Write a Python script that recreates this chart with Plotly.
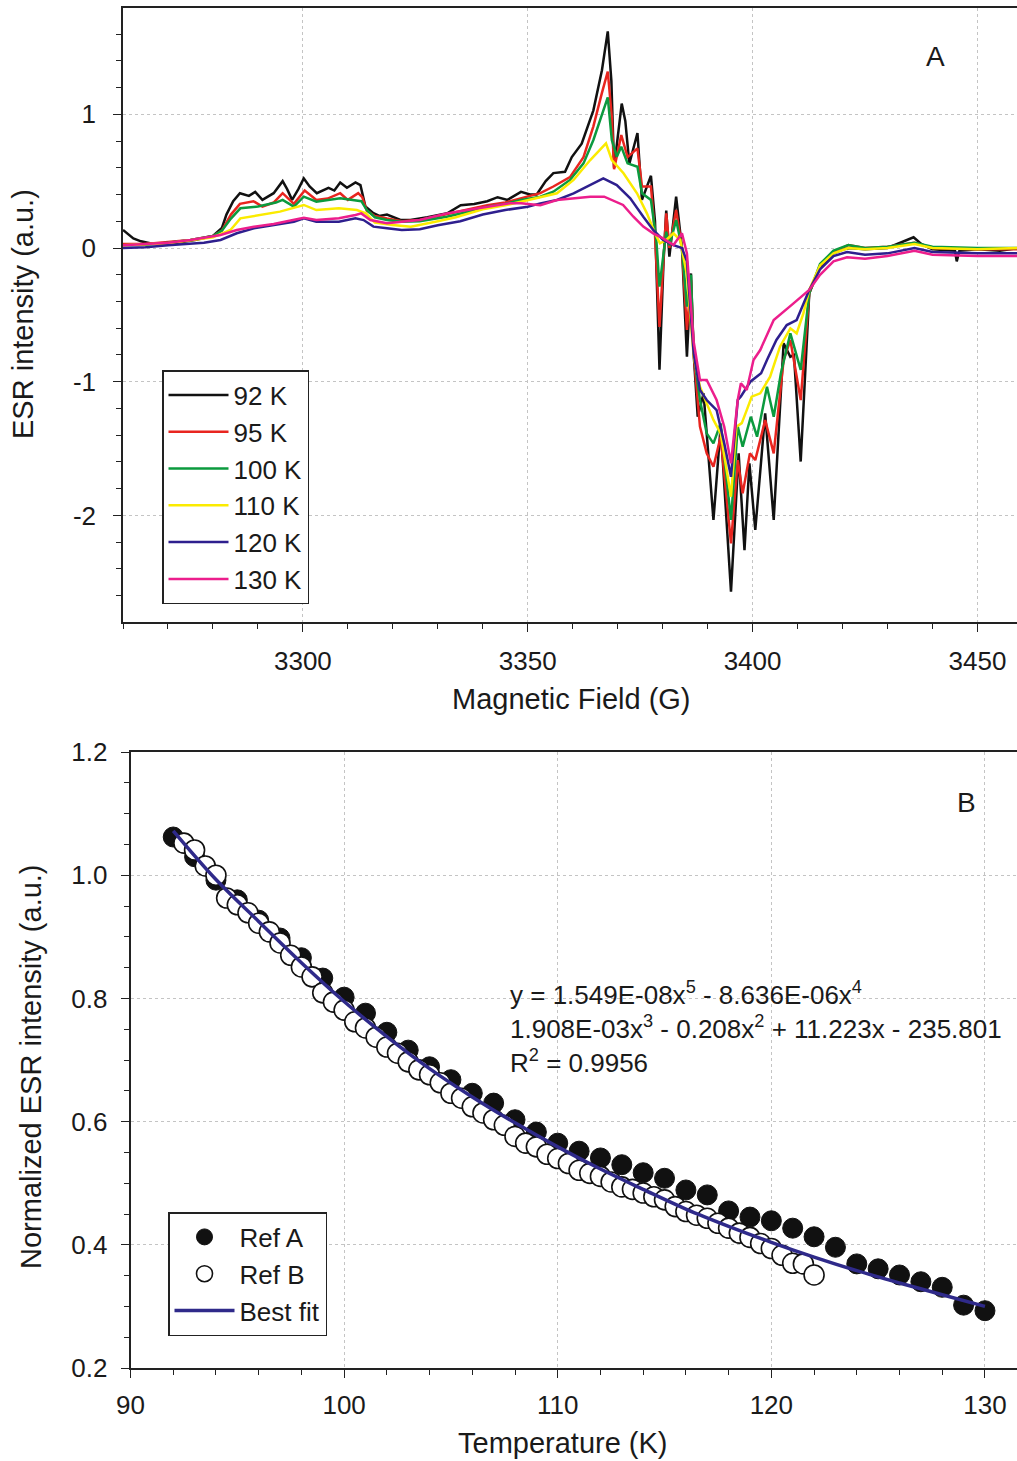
import plotly.graph_objects as go

# ---------------- Panel A: ESR spectra at several temperatures ----------------
field_92 = [3260, 3261, 3262.3, 3264, 3266, 3268, 3272, 3276, 3280, 3282, 3283, 3284.5, 3286, 3288,
            3289.4, 3291, 3293.5, 3295.5, 3296.5, 3297.6, 3299, 3300.2, 3301.5, 3303.1, 3305.7, 3307,
            3308.3, 3309.8, 3311.7, 3312.8, 3313.9, 3315.7, 3317, 3318.7, 3321.7, 3323.9, 3327.7,
            3332.1, 3335.1, 3338.1, 3341, 3343.3, 3345.5, 3348.5, 3350.5, 3352, 3354, 3355.7, 3358.3,
            3359.8, 3362, 3364.6, 3366.5, 3367.8, 3368.6, 3369.2, 3370.9, 3371.7, 3372.6, 3374.4,
            3375.4, 3377.4, 3378.3, 3379.3, 3380.2, 3380.8, 3381.5, 3383.0, 3384.3, 3385.4, 3386.3,
            3386.9, 3387.8, 3389.1, 3391.3, 3392.9, 3395.2, 3396.9, 3398.2, 3399.3, 3400.6, 3402.8,
            3404.7, 3406.9, 3408.4, 3409.2, 3410.7, 3412.6, 3415.0, 3418, 3420.2, 3421.7, 3425, 3430,
            3433, 3435.8, 3437.5, 3440, 3445, 3445.4, 3446, 3450, 3455, 3459]
esr_92 = [0.135, 0.11, 0.072, 0.05, 0.035, 0.03, 0.04, 0.06, 0.09, 0.15, 0.25, 0.35, 0.41, 0.39,
          0.42, 0.36, 0.41, 0.50, 0.44, 0.36, 0.44, 0.52, 0.46, 0.41, 0.45, 0.43,
          0.49, 0.45, 0.49, 0.47, 0.31, 0.26, 0.24, 0.25, 0.21, 0.21, 0.23,
          0.26, 0.32, 0.33, 0.35, 0.38, 0.36, 0.42, 0.40, 0.40, 0.50, 0.56, 0.57,
          0.68, 0.78, 1.03, 1.33, 1.62, 1.25, 0.60, 1.08, 0.95, 0.63, 0.86,
          0.36, 0.54, 0.20, -0.91, -0.10, 0.28, -0.065, 0.384, 0.0, -0.813, -0.19,
          -0.79, -1.262, -1.087, -2.034, -1.336, -2.571, -1.536, -2.259, -1.61, -2.109, -1.237,
          -2.034, -0.713, -0.813, -0.80, -1.597, -0.339, -0.14, -0.04, -0.01, 0.0, -0.01, 0.0,
          0.04, 0.08, 0.03, -0.01, -0.02, -0.10, -0.02, -0.01, -0.02, 0.0]

field_95 = [3260, 3265, 3270, 3275, 3280, 3282, 3284, 3286, 3289, 3291, 3293.5, 3295.5, 3298, 3300.4,
            3303, 3305.5, 3308.3, 3310, 3312.3, 3313.2, 3314.2, 3316, 3318.7, 3322, 3326, 3330, 3334,
            3338, 3341, 3345, 3348.5, 3352.8, 3355.7, 3359.4, 3362.4, 3364.6, 3366.5, 3367.8, 3368.7,
            3369.2, 3370.8, 3372.2, 3374.4, 3375.4, 3377.4, 3378.3, 3379.3, 3380.8, 3381.5, 3383.0,
            3384.3, 3385.4, 3386.3, 3386.9, 3388.3, 3389.8, 3391.3, 3392.9, 3395.2, 3396.7, 3397.8,
            3399.4, 3400.6, 3402.8, 3404.7, 3406.9, 3408.4, 3410.7, 3412.6, 3415, 3418, 3421.3, 3425,
            3430, 3436, 3440, 3450, 3459]
esr_95 = [0.03, 0.03, 0.045, 0.06, 0.09, 0.13, 0.25, 0.33, 0.35, 0.31, 0.34, 0.41, 0.33, 0.43,
          0.36, 0.37, 0.41, 0.36, 0.41, 0.38, 0.28, 0.24, 0.22, 0.20, 0.21, 0.24, 0.27,
          0.30, 0.32, 0.34, 0.37, 0.41, 0.46, 0.53, 0.68, 0.91, 1.16, 1.32, 0.98,
          0.59, 0.845, 0.68, 0.745, 0.46, 0.46, 0.10, -0.59, 0.26, 0.0, 0.284,
          0.0, -0.613, -0.24, -0.79, -1.336, -1.536, -1.636, -1.411, -2.209, -1.586, -1.835,
          -1.536, -1.586, -1.286, -1.536, -0.838, -0.688, -1.137, -0.339, -0.13, -0.03, 0.022, 0.0,
          0.01, 0.04, 0.0, -0.01, -0.01]

field_100 = [3260, 3265, 3270, 3275, 3280, 3282, 3284, 3286.1, 3290, 3294, 3295.5, 3298, 3300.2, 3303,
             3308.3, 3311, 3313, 3314.2, 3316, 3318.7, 3322, 3326, 3332, 3338, 3341, 3345, 3348.5,
             3352.8, 3355.7, 3359.4, 3362.4, 3364.6, 3366.5, 3367.8, 3368.7, 3369.8, 3370.8, 3372.2,
             3374.4, 3375.4, 3377.4, 3378.6, 3379.3, 3380.8, 3381.5, 3383.0, 3384.3, 3385.4, 3386.3,
             3386.9, 3388.3, 3389.8, 3391.3, 3392.9, 3395.2, 3396.7, 3397.8, 3399.6, 3401.0, 3403.2,
             3404.7, 3406.3, 3408.4, 3410.7, 3412.6, 3415, 3418, 3421.3, 3425, 3430, 3436, 3440,
             3450, 3459]
esr_100 = [0.02, 0.025, 0.04, 0.06, 0.09, 0.13, 0.22, 0.297, 0.31, 0.34, 0.36, 0.31, 0.384, 0.346,
           0.372, 0.359, 0.35, 0.284, 0.23, 0.21, 0.197, 0.20, 0.234, 0.28, 0.309, 0.33, 0.359,
           0.384, 0.421, 0.509, 0.633, 0.808, 1.007, 1.127, 0.808, 0.683, 0.758, 0.633,
           0.608, 0.409, 0.359, 0.06, -0.289, 0.122, 0.02, 0.209, 0.0, -0.439, -0.20,
           -0.79, -1.137, -1.386, -1.461, -1.311, -2.034, -1.336, -1.486, -1.262, -1.411, -1.037,
           -1.262, -0.937, -0.638, -0.912, -0.339, -0.12, -0.02, 0.022, 0.0, 0.01, 0.04, 0.01,
           0.0, 0.0]

field_110 = [3260, 3270, 3280, 3283.9, 3286.1, 3290.4, 3294.9, 3300.2, 3303, 3308, 3312, 3314, 3316,
             3320, 3324, 3330, 3334, 3340, 3345, 3349, 3352.8, 3356.5, 3360.2, 3363.9, 3367.4,
             3368.7, 3371.3, 3374.3, 3376.5, 3378.3, 3379.4, 3380.8, 3382.4, 3383.9, 3385.4, 3386.9,
             3388.3, 3389.8, 3391.3, 3392.9, 3395.2, 3396.4, 3397.6, 3398.7, 3399.8, 3401.7, 3403.9,
             3406.1, 3408.4, 3409.8, 3411.3, 3412.6, 3415, 3418, 3421.3, 3425, 3430, 3436, 3440,
             3450, 3459]
esr_110 = [0.02, 0.035, 0.08, 0.135, 0.222, 0.247, 0.272, 0.322, 0.284, 0.297, 0.284, 0.259, 0.19,
           0.172, 0.159, 0.20, 0.23, 0.29, 0.32, 0.35, 0.38, 0.409, 0.509, 0.658, 0.783,
           0.658, 0.559, 0.409, 0.259, 0.11, 0.035, 0.06, 0.11, 0.06, -0.20, -0.81,
           -1.037, -1.162, -1.286, -1.386, -1.86, -1.336, -1.31, -1.212, -1.112, -1.087, -0.962,
           -0.738, -0.601, -0.638, -0.489, -0.314, -0.13, -0.04, 0.0, -0.01, 0.0, 0.03, 0.0,
           -0.01, 0.0]

field_120 = [3260, 3265, 3270, 3275, 3278, 3281.7, 3285.3, 3289.1, 3293.5, 3298, 3300.2, 3303, 3308,
             3311.7, 3313.5, 3315.7, 3318.7, 3322, 3326, 3330, 3335, 3340, 3345, 3350, 3352.8,
             3356.5, 3360.2, 3363.9, 3366.8, 3369.8, 3372.8, 3375.7, 3377.9, 3380.1, 3382.4, 3384.3,
             3385.4, 3386.9, 3388.3, 3389.8, 3392.0, 3393.7, 3395.2, 3396.7, 3397.4, 3399.5, 3401.9,
             3403.2, 3405.3, 3407.6, 3409.8, 3412.6, 3415, 3418, 3421, 3425, 3430, 3436, 3440,
             3450, 3459]
esr_120 = [0.0, 0.005, 0.02, 0.03, 0.04, 0.06, 0.11, 0.147, 0.172, 0.197, 0.222, 0.197, 0.197,
           0.222, 0.209, 0.16, 0.147, 0.135, 0.14, 0.17, 0.20, 0.25, 0.284, 0.309, 0.334,
           0.359, 0.409, 0.471, 0.521, 0.471, 0.372, 0.234, 0.135, 0.06, 0.022, 0.0,
           -0.10, -0.79, -1.062, -1.137, -1.212, -1.461, -1.711, -1.137, -1.11, -1.0, -0.937,
           -0.838, -0.688, -0.576, -0.539, -0.314, -0.16, -0.06, -0.03, -0.05, -0.04, 0.0, -0.03,
           -0.04, -0.04]

field_130 = [3260, 3265, 3270, 3275, 3278, 3281.7, 3285.3, 3289.1, 3293.5, 3298, 3300.2, 3303, 3308,
             3311.7, 3313, 3315, 3318.7, 3322, 3326, 3332, 3337, 3341, 3346, 3348.5, 3352.8, 3356.5,
             3360.2, 3363.9, 3367.0, 3368.7, 3371.2, 3373.5, 3375.7, 3377.9, 3380.1, 3382.4, 3384.3,
             3385.4, 3386.9, 3388.3, 3389.8, 3392.0, 3393.7, 3395.2, 3396.7, 3397.4, 3398.7, 3400.2,
             3401.7, 3404.7, 3407, 3409.1, 3412.6, 3415, 3418, 3421, 3425, 3430, 3436, 3440, 3450,
             3459]
esr_130 = [0.02, 0.03, 0.04, 0.06, 0.075, 0.097, 0.135, 0.159, 0.18, 0.209, 0.226, 0.209, 0.222,
           0.247, 0.259, 0.209, 0.185, 0.197, 0.21, 0.259, 0.285, 0.309, 0.334, 0.334, 0.32, 0.359,
           0.372, 0.384, 0.384, 0.359, 0.322, 0.234, 0.16, 0.11, 0.072, 0.022, 0.11,
           -0.04, -0.70, -0.987, -0.987, -1.137, -1.337, -1.61, -1.137, -1.012, -1.062, -0.838,
           -0.763, -0.539, -0.47, -0.414, -0.314, -0.20, -0.10, -0.07, -0.08, -0.06, -0.02, -0.05, -0.06,
           -0.06]

spectra = [
    ("92 K", field_92, esr_92, "#111111"),
    ("95 K", field_95, esr_95, "#e8251f"),
    ("100 K", field_100, esr_100, "#0b9a3e"),
    ("110 K", field_110, esr_110, "#fbeb00"),
    ("120 K", field_120, esr_120, "#2e1f8e"),
    ("130 K", field_130, esr_130, "#ec1e8c"),
]

esr_ticks = [-2, -1, 0, 1]
esr_ticktext = ["-2", "-1", "0", "1"]

# ---------------- Panel B: normalized intensity vs temperature ----------------
temp_ref_a = list(range(92, 131))
norm_ref_a = [1.062, 1.030, 0.992, 0.960, 0.927, 0.898, 0.866, 0.833, 0.802, 0.776,
              0.745, 0.716, 0.689, 0.668, 0.646, 0.630, 0.603, 0.583, 0.565, 0.552,
              0.541, 0.530, 0.517, 0.508, 0.489, 0.481, 0.455, 0.445, 0.439, 0.427,
              0.413, 0.396, 0.369, 0.361, 0.351, 0.340, 0.331, 0.302, 0.293]

temp_ref_b = [92.5 + 0.5 * i for i in range(60)]
norm_ref_b = [1.052, 1.041, 1.015, 1.000, 0.963, 0.952, 0.939, 0.922, 0.908, 0.890,
              0.870, 0.851, 0.835, 0.809, 0.794, 0.781, 0.762, 0.752, 0.737, 0.721,
              0.711, 0.697, 0.684, 0.676, 0.663, 0.646, 0.638, 0.624, 0.614, 0.603,
              0.594, 0.576, 0.565, 0.559, 0.547, 0.540, 0.532, 0.521, 0.516, 0.511,
              0.502, 0.494, 0.490, 0.484, 0.478, 0.473, 0.462, 0.454, 0.448, 0.443,
              0.435, 0.427, 0.419, 0.412, 0.402, 0.394, 0.383, 0.370, 0.369, 0.351]

temp_fit = [92, 94, 96, 98, 100, 102, 104, 106, 108, 110, 112, 114, 116, 118, 120,
            122, 124, 126, 128, 130]
norm_fit = [1.072, 0.993, 0.925, 0.858, 0.795, 0.738, 0.686, 0.640, 0.598, 0.559,
            0.523, 0.490, 0.458, 0.430, 0.404, 0.380, 0.358, 0.338, 0.319, 0.300]

fit_text = ("y = 1.549E-08x<sup>5</sup> - 8.636E-06x<sup>4</sup><br>"
            "1.908E-03x<sup>3</sup> - 0.208x<sup>2</sup> + 11.223x - 235.801<br>"
            "R<sup>2</sup> = 0.9956")

# ---------------- Figure ----------------
W, H = 1017, 1461
FONT = "Liberation Sans, Arial, sans-serif"
INK = "#1a1a1a"

fig = go.Figure()

for name, fx, fy, color in spectra:
    fig.add_trace(go.Scatter(x=fx, y=fy, mode="lines", name=name,
                             line=dict(color=color, width=2.5),
                             xaxis="x", yaxis="y", legend="legend"))

fig.add_trace(go.Scatter(x=temp_ref_a, y=norm_ref_a, mode="markers", name="Ref A",
                         marker=dict(symbol="circle", size=20, color="#111111",
                                     line=dict(color="#111111", width=1)),
                         xaxis="x2", yaxis="y2", legend="legend2"))
fig.add_trace(go.Scatter(x=temp_ref_b, y=norm_ref_b, mode="markers", name="Ref B",
                         marker=dict(symbol="circle", size=20, color="white",
                                     line=dict(color="#111111", width=1.6)),
                         xaxis="x2", yaxis="y2", legend="legend2"))
fig.add_trace(go.Scatter(x=temp_fit, y=norm_fit, mode="lines", name="Best fit",
                         line=dict(color="#2f2a8a", width=3.5, shape="spline"),
                         xaxis="x2", yaxis="y2", legend="legend2"))


def px_x(p):
    return p / W


def px_y(p):
    return 1 - p / H


axis_common = dict(
    automargin=False,
    showline=True, linecolor="#222222", linewidth=1.6, mirror=True,
    ticks="outside", tickcolor="#222222", tickwidth=1.4, ticklen=8,
    showgrid=True, gridcolor="#c4c4c4", gridwidth=1, griddash="dot",
    zeroline=False, tickfont=dict(family=FONT, size=26, color=INK),
)


def minor(dtick, tick0):
    return dict(dtick=dtick, tick0=tick0, ticks="outside", ticklen=5,
                tickcolor="#222222", tickwidth=1.2, showgrid=False)


legend_common = dict(xanchor="left", yanchor="top", bgcolor="white",
                     bordercolor="#222222", borderwidth=1.5,
                     font=dict(family=FONT, size=26, color=INK),
                     itemwidth=60, tracegroupgap=0)

fig.update_layout(
    width=W, height=H,
    margin=dict(l=0, r=0, t=0, b=0, pad=0),
    paper_bgcolor="white", plot_bgcolor="white",
    font=dict(family=FONT, size=26, color=INK),
    xaxis=dict(domain=[px_x(123), 1], range=[3260, 3458.8], anchor="y",
               tickvals=[3300, 3350, 3400, 3450], ticklabelstandoff=7,
               minor=minor(10, 3260), **axis_common),
    yaxis=dict(domain=[px_y(622), px_y(8)], range=[-2.797, 1.795], anchor="x",
               tickvals=esr_ticks, ticktext=esr_ticktext, ticklabelstandoff=12,
               minor=minor(0.2, 0), **axis_common),
    xaxis2=dict(domain=[px_x(130.5), 1], range=[90, 131.5], anchor="y2",
                tickvals=[90, 100, 110, 120, 130], ticklabelstandoff=5,
                minor=minor(2, 90), **axis_common),
    yaxis2=dict(domain=[px_y(1368), px_y(752)], range=[0.2, 1.2], anchor="x2",
                tickvals=[0.2, 0.4, 0.6, 0.8, 1.0, 1.2], tickformat=".1f",
                ticklabelstandoff=8, minor=minor(0.05, 0.2), **axis_common),
    legend=dict(x=px_x(162), y=px_y(370), **legend_common),
    legend2=dict(x=px_x(168), y=px_y(1212), **legend_common),
    showlegend=True,
)

annotations = [
    dict(text="A", x=px_x(935), y=px_y(57), font=dict(size=28)),
    dict(text="B", x=px_x(966), y=px_y(803), font=dict(size=28)),
    dict(text="ESR intensity (a.u.)", x=px_x(23), y=px_y(314), textangle=-90,
         font=dict(size=29)),
    dict(text="Magnetic Field (G)", x=px_x(571), y=px_y(699), font=dict(size=29)),
    dict(text="Normalized ESR intensity (a.u.)", x=px_x(31), y=px_y(1067),
         textangle=-90, font=dict(size=29)),
    dict(text="Temperature (K)", x=px_x(563), y=px_y(1443), font=dict(size=29)),
    dict(text=fit_text, x=px_x(508), y=px_y(1027), xanchor="left", align="left",
         font=dict(size=26)),
]
for a in annotations:
    a.setdefault("xanchor", "center")
    a.update(xref="paper", yref="paper", yanchor="middle", showarrow=False)
    a["font"] = dict(family=FONT, color=INK, **a["font"])
    fig.add_annotation(**a)

fig.write_html("out.html")
